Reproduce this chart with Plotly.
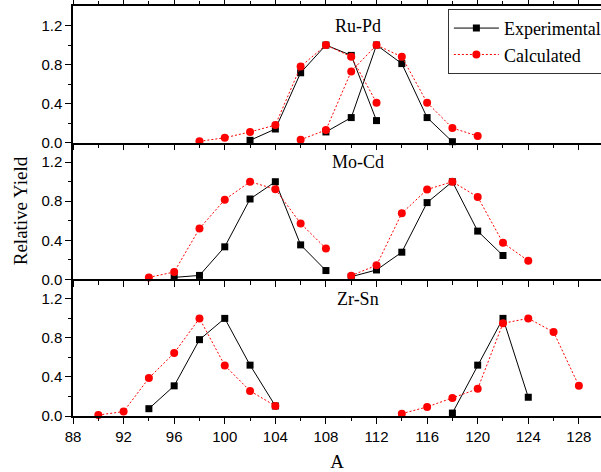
import plotly.graph_objects as go

# ---------------- data ----------------
# Ru-Pd (top panel)
rupd_exp1_x = [102, 104, 106, 108, 110, 112]
rupd_exp1_y = [0.024, 0.14, 0.716, 1.0, 0.894, 0.226]
rupd_cal1_x = [98, 100, 102, 104, 106, 108, 110, 112]
rupd_cal1_y = [0.014, 0.05, 0.11, 0.18, 0.78, 1.0, 0.88, 0.41]
rupd_exp2_x = [108, 110, 112, 114, 116, 118]
rupd_exp2_y = [0.11, 0.257, 1.0, 0.81, 0.257, 0.01]
rupd_cal2_x = [106, 108, 110, 112, 114, 116, 118, 120]
rupd_cal2_y = [0.03, 0.13, 0.73, 1.0, 0.88, 0.41, 0.15, 0.068]

# Mo-Cd (middle panel)
mocd_exp1_x = [96, 98, 100, 102, 104, 106, 108]
mocd_exp1_y = [0.02, 0.04, 0.333, 0.823, 1.0, 0.353, 0.09]
mocd_cal1_x = [94, 96, 98, 100, 102, 104, 106, 108]
mocd_cal1_y = [0.02, 0.075, 0.52, 0.816, 1.0, 0.923, 0.573, 0.316]
mocd_exp2_x = [110, 112, 114, 116, 118, 120, 122]
mocd_exp2_y = [0.027, 0.096, 0.278, 0.786, 1.0, 0.494, 0.244]
mocd_cal2_x = [110, 112, 114, 116, 118, 120, 122, 124]
mocd_cal2_y = [0.038, 0.144, 0.676, 0.92, 1.0, 0.844, 0.374, 0.19]

# Zr-Sn (bottom panel)
zrsn_exp1_x = [94, 96, 98, 100, 102, 104]
zrsn_exp1_y = [0.075, 0.309, 0.782, 1.0, 0.521, 0.103]
zrsn_cal1_x = [90, 92, 94, 96, 98, 100, 102, 104]
zrsn_cal1_y = [0.01, 0.045, 0.388, 0.645, 1.0, 0.518, 0.257, 0.103]
zrsn_exp2_x = [118, 120, 122, 124]
zrsn_exp2_y = [0.03, 0.521, 1.0, 0.192]
zrsn_cal2_x = [114, 116, 118, 120, 122, 124, 126, 128]
zrsn_cal2_y = [0.024, 0.093, 0.185, 0.278, 0.95, 1.0, 0.86, 0.309]

panel_names = ["Ru-Pd", "Mo-Cd", "Zr-Sn"]
x_ticks = [88, 92, 96, 100, 104, 108, 112, 116, 120, 124, 128]
y_ticks = [0.0, 0.4, 0.8, 1.2]

panels = [
    [(rupd_exp1_x, rupd_exp1_y, rupd_cal1_x, rupd_cal1_y),
     (rupd_exp2_x, rupd_exp2_y, rupd_cal2_x, rupd_cal2_y)],
    [(mocd_exp1_x, mocd_exp1_y, mocd_cal1_x, mocd_cal1_y),
     (mocd_exp2_x, mocd_exp2_y, mocd_cal2_x, mocd_cal2_y)],
    [(zrsn_exp1_x, zrsn_exp1_y, zrsn_cal1_x, zrsn_cal1_y),
     (zrsn_exp2_x, zrsn_exp2_y, zrsn_cal2_x, zrsn_cal2_y)],
]

SERIF = "Liberation Serif, Times New Roman, serif"
SANS = "Liberation Sans, Arial, sans-serif"

fig = go.Figure()

first = True
for i, groups in enumerate(panels):
    xa = "x" if i == 0 else f"x{i+1}"
    ya = "y" if i == 0 else f"y{i+1}"
    for (ex, ey, cx, cy) in groups:
        fig.add_trace(go.Scatter(
            x=ex, y=ey, xaxis=xa, yaxis=ya, mode="lines+markers",
            name="Experimental", legendgroup="exp", showlegend=first,
            line=dict(color="black", width=1),
            marker=dict(symbol="square", size=7, color="black"),
            cliponaxis=False))
        fig.add_trace(go.Scatter(
            x=cx, y=cy, xaxis=xa, yaxis=ya, mode="lines+markers",
            name="Calculated", legendgroup="cal", showlegend=first,
            line=dict(color="#ff0000", width=1, dash="2px,2px"),
            marker=dict(symbol="circle", size=8, color="#ff0000"),
            cliponaxis=False))
        first = False

h = 1.0 / 3
layout = dict(
    width=601, height=472,
    margin=dict(l=73, r=0, t=6, b=56, autoexpand=False),
    paper_bgcolor="white", plot_bgcolor="white",
    showlegend=True,
    legend=dict(x=0.710, xanchor="left", y=0.993, yanchor="top",
                bgcolor="white", bordercolor="#333333", borderwidth=1,
                font=dict(family=SERIF, size=18, color="black"),
                itemwidth=45, tracegroupgap=0),
)

for i in range(3):
    xk = "xaxis" if i == 0 else f"xaxis{i+1}"
    yk = "yaxis" if i == 0 else f"yaxis{i+1}"
    ya = "y" if i == 0 else f"y{i+1}"
    xa = "x" if i == 0 else f"x{i+1}"
    d0 = 1 - (i + 1) * h
    d1 = 1 - i * h
    layout[xk] = dict(
        domain=[0, 1], anchor=ya, range=[88, 129.75],
        showline=True, linecolor="black", linewidth=1.5,
        mirror="ticks" if i == 0 else False,
        ticks="outside", ticklen=6, tickwidth=1.2, tickcolor="black",
        tickvals=x_ticks, showticklabels=(i == 2),
        minor=dict(dtick=2, tick0=88, ticks="outside", ticklen=3.5,
                   tickwidth=1.2, tickcolor="black"),
        showgrid=False, zeroline=False,
        tickfont=dict(family=SANS, size=15, color="black"),
    )
    if i != 0:
        layout[xk]["matches"] = "x"
    if i == 2:
        layout[xk]["title"] = dict(text="A", standoff=12,
                                   font=dict(family=SERIF, size=19, color="black"))
    layout[yk] = dict(
        domain=[d0, d1], anchor=xa, range=[0, 1.4],
        showline=True, linecolor="black", linewidth=1.5,
        ticks="outside", ticklen=6, tickwidth=1.2, tickcolor="black",
        tickvals=y_ticks, tickformat=".1f",
        minor=dict(tickvals=[0.2, 0.6, 1.0], ticks="outside", ticklen=3.5,
                   tickwidth=1.2, tickcolor="black"),
        showgrid=False, zeroline=False,
        tickfont=dict(family=SANS, size=15, color="black"),
    )
    if i == 1:
        layout[yk]["title"] = dict(text="Relative Yield", standoff=9,
                                   font=dict(family=SERIF, size=19, color="black"))

fig.update_layout(**layout)

for i, name in enumerate(panel_names):
    xa = "x" if i == 0 else f"x{i+1}"
    ya = "y" if i == 0 else f"y{i+1}"
    fig.add_annotation(x=110.5, y=1.2, xref=xa, yref=ya, text=name,
                       showarrow=False,
                       font=dict(family=SERIF, size=18, color="black"))

fig.write_html("out.html", config={"displayModeBar": False},
               post_script="document.body.style.margin='0px';document.body.style.padding='0px';")
